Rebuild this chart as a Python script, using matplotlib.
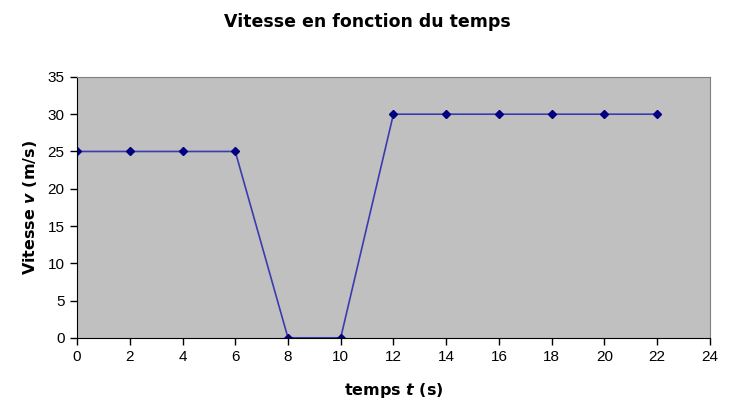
import matplotlib
matplotlib.use("Agg")
from matplotlib import pyplot as plt

temps = [0, 2, 4, 6, 8, 10, 12, 14, 16, 18, 20, 22]
vitesse = [25, 25, 25, 25, 0, 0, 30, 30, 30, 30, 30, 30]
x_ticks = list(range(0, 25, 2))
y_ticks = list(range(0, 36, 5))

plt.rcParams['font.family'] = ['Liberation Sans', 'DejaVu Sans']
plt.rcParams['mathtext.fontset'] = 'custom'
plt.rcParams['mathtext.it'] = 'DejaVu Sans:italic:bold'

fig = plt.figure(figsize=(7.34, 4.07), dpi=100)
ax = fig.add_axes([0.105, 0.170, 0.862, 0.641])
ax.set_facecolor('#c0c0c0')

ax.plot(temps, vitesse, color='#3b3bb0', linewidth=1.2,
        marker='D', markersize=4.5, markerfacecolor='#000080',
        markeredgecolor='#000080')

ax.set_xlim(0, 24)
ax.set_ylim(0, 35)
ax.set_xticks(x_ticks)
ax.set_yticks(y_ticks)
ax.tick_params(direction='out', length=5, width=1, labelsize=11, color='black', pad=4)

for side in ('top', 'right'):
    ax.spines[side].set_color('#808080')
for side in ('left', 'bottom'):
    ax.spines[side].set_color('black')

fig.text(0.5, 0.947, 'Vitesse en fonction du temps', ha='center', va='center',
         fontsize=12.5, fontweight='bold', family='DejaVu Sans')
ax.set_xlabel('temps $t$ (s)', fontsize=11.5, fontweight='bold', family='DejaVu Sans', labelpad=12)
ax.set_ylabel('Vitesse $v$ (m/s)', fontsize=11.5, fontweight='bold', family='DejaVu Sans', labelpad=6)

fig.savefig('out.png', dpi=100, facecolor='white')
